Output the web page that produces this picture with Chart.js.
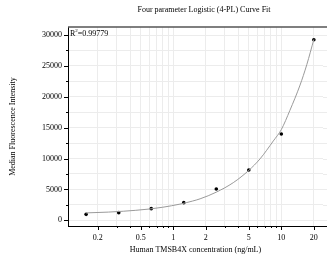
<!DOCTYPE html>
<html>
<head>
<meta charset="utf-8">
<script src="https://cdn.jsdelivr.net/npm/chart.js@4"></script>
<style>
  html, body { margin: 0; padding: 0; background: #fff; }
  #wrap { width: 327px; height: 268px; position: relative; }
</style>
</head>
<body>
<div id="wrap"><canvas id="fitChart"></canvas></div>
<script>
// Standard points (ng/mL vs MFI)
const concentrations = [0.156, 0.3125, 0.625, 1.25, 2.5, 5, 10, 20];
const intensities = [970, 1245, 1890, 2860, 5070, 8140, 13970, 29240];

// Fitted curve
const curveX = [0.155, 0.25, 0.344, 0.45, 0.608, 0.8, 1.15, 1.5, 1.77, 2.5, 3.59, 5, 6.35, 8.43, 10, 12, 14.9, 17.2, 20];
const curveY = [1200, 1330, 1470, 1620, 1840, 2120, 2620, 3110, 3480, 4560, 6100, 8090, 9950, 12850, 14700, 17800, 21900, 25200, 29290];

// Axis ticks
const xTicks = [0.2, 0.3, 0.4, 0.5, 0.6, 0.7, 0.8, 0.9, 1, 2, 3, 4, 5, 6, 7, 8, 9, 10, 20];
const xLabels = [0.2, 0.5, 1, 2, 5, 10, 20];
const yTicks = [0, 2500, 5000, 7500, 10000, 12500, 15000, 17500, 20000, 22500, 25000, 27500, 30000];
const yLabels = [0, 5000, 10000, 15000, 20000, 25000, 30000];

const serif = "'Liberation Serif', 'DejaVu Serif', serif";

// tick marks (long for labelled ticks, short for the others) + frame + texts
const extrasPlugin = {
    id: 'extras',
    afterDraw(chart) {
        const ctx = chart.ctx;
        const area = chart.chartArea;
        const xs = chart.scales.x;
        const ys = chart.scales.y;
        ctx.save();
        ctx.strokeStyle = '#000';
        ctx.lineWidth = 1;
        ctx.beginPath();
        xTicks.forEach(v => {
            const px = Math.round(xs.getPixelForValue(v)) + 0.5;
            const len = xLabels.includes(v) ? 4 : 2;
            ctx.moveTo(px, area.bottom);
            ctx.lineTo(px, area.bottom + len);
        });
        yTicks.forEach(v => {
            const py = Math.round(ys.getPixelForValue(v)) + 0.5;
            const len = yLabels.includes(v) ? 4 : 2;
            ctx.moveTo(area.left, py);
            ctx.lineTo(area.left - len, py);
        });
        ctx.stroke();

        // horizontal grid + axis continue to the right edge of the picture
        ctx.strokeStyle = '#ececec';
        ctx.beginPath();
        yTicks.forEach(v => {
            const py = Math.round(ys.getPixelForValue(v)) + 0.5;
            ctx.moveTo(area.right, py);
            ctx.lineTo(chart.width, py);
        });
        ctx.stroke();
        ctx.strokeStyle = '#000';
        ctx.beginPath();
        ctx.moveTo(area.right, area.bottom + 0.5);
        ctx.lineTo(chart.width, area.bottom + 0.5);
        ctx.stroke();

        // top frame line
        ctx.strokeStyle = '#555';
        ctx.lineWidth = 1.5;
        ctx.beginPath();
        ctx.moveTo(area.left, area.top);
        ctx.lineTo(chart.width, area.top);
        ctx.stroke();

        ctx.fillStyle = '#000';
        ctx.font = '8px ' + serif;
        ctx.textBaseline = 'middle';
        ctx.textAlign = 'center';
        ctx.fillText('Four parameter Logistic (4-PL) Curve Fit', 204, 10);

        // R² label
        ctx.textAlign = 'left';
        ctx.fillText('R', area.left + 2, area.top + 7);
        const rw = ctx.measureText('R').width;
        ctx.font = '5px ' + serif;
        ctx.fillText('2', area.left + 2 + rw, area.top + 4);
        const sw = ctx.measureText('2').width;
        ctx.font = '8px ' + serif;
        ctx.fillText('=0.99779', area.left + 2 + rw + sw, area.top + 7);
        ctx.restore();
    }
};

const ctx = document.getElementById('fitChart').getContext('2d');
new Chart(ctx, {
    type: 'line',
    data: {
        datasets: [
            {
                label: 'Fit',
                data: curveX.map((x, i) => ({ x: x, y: curveY[i] })),
                borderColor: '#9a9a9a',
                borderWidth: 1,
                pointRadius: 0,
                cubicInterpolationMode: 'monotone',
                fill: false
            },
            {
                label: 'Standards',
                data: concentrations.map((x, i) => ({ x: x, y: intensities[i] })),
                showLine: false,
                pointRadius: 1.8,
                pointBackgroundColor: '#000',
                pointBorderColor: '#000',
                pointBorderWidth: 0
            }
        ]
    },
    options: {
        responsive: true,
        maintainAspectRatio: false,
        animation: false,
        layout: { padding: { top: 27, left: 0, right: 0, bottom: 0 } },
        plugins: {
            legend: { display: false },
            tooltip: { enabled: false }
        },
        scales: {
            x: {
                type: 'logarithmic',
                min: 0.106,
                max: 24.3,
                afterBuildTicks: s => { s.ticks = xTicks.map(v => ({ value: v })); },
                afterFit: s => { s.height = 42; },
                grid: { color: '#ececec', drawTicks: false },
                border: { color: '#000', width: 1 },
                ticks: {
                    autoSkip: false,
                    maxRotation: 0,
                    padding: 7,
                    color: '#000',
                    font: { family: serif, size: 8 },
                    callback: v => xLabels.includes(v) ? String(v) : ''
                },
                title: {
                    display: true,
                    text: 'Human TMSB4X concentration (ng/mL)',
                    color: '#000',
                    font: { family: serif, size: 8 },
                    padding: { top: 0, bottom: 13 }
                }
            },
            y: {
                type: 'linear',
                min: -920,
                max: 31300,
                afterBuildTicks: s => { s.ticks = yTicks.map(v => ({ value: v })); },
                afterFit: s => { s.width = 68; },
                grid: { color: '#ececec', drawTicks: false },
                border: { color: '#000', width: 1 },
                ticks: {
                    padding: 6,
                    color: '#000',
                    font: { family: serif, size: 8 },
                    callback: v => yLabels.includes(v) ? String(v) : ''
                },
                title: {
                    display: true,
                    text: 'Median Fluorescence Intensity',
                    color: '#000',
                    font: { family: serif, size: 8 },
                    padding: { top: 8, bottom: 0 }
                }
            }
        }
    },
    plugins: [extrasPlugin]
});
</script>
</body>
</html>
